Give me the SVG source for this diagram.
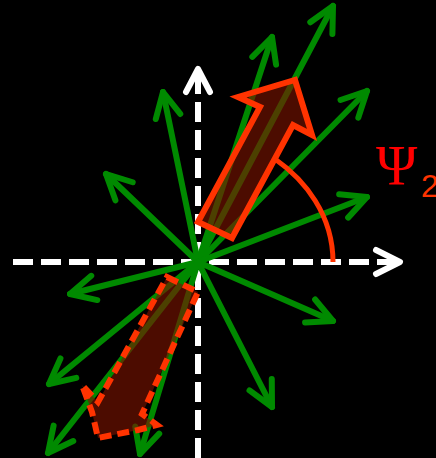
<svg xmlns="http://www.w3.org/2000/svg" width="436" height="458" viewBox="0 0 436 458">
<style>
.axis{stroke:#fff;stroke-width:6;fill:none;stroke-dasharray:20 8}
.g{stroke:#008a00;stroke-width:6;stroke-linecap:round;fill:none;marker-end:url(#ga)}
.big{stroke:#ff3300;stroke-width:6;fill:#7a1400;fill-opacity:0.62;stroke-linejoin:miter}
.lbl{font-family:"Liberation Serif",serif;fill:#ff0000}
</style>
<defs>
<marker id="ga" markerUnits="userSpaceOnUse" viewBox="-32 -20 40 40" refX="0" refY="0" markerWidth="40" markerHeight="40" orient="auto" overflow="visible">
<path d="M-25,-12.5 L0,0 L-25,12.5" fill="none" stroke="#008a00" stroke-width="6" stroke-linecap="round" stroke-linejoin="round"/>
</marker>
</defs>
<rect width="436" height="458" fill="#000"/>
<g id="axes">
<line class="axis" x1="13" y1="262" x2="398" y2="262"/>
<path d="M376,250 L400,262 L376,274" fill="none" stroke="#fff" stroke-width="6" stroke-linecap="round" stroke-linejoin="round"/>
<line class="axis" x1="198" y1="458" x2="198" y2="72"/>
<path d="M186,92 L198,69 L210,92" fill="none" stroke="#fff" stroke-width="6" stroke-linecap="round" stroke-linejoin="round"/>
</g>
<g id="connectors">
<line class="g" x1="198" y1="262" x2="333" y2="6"/>
<line class="g" x1="198" y1="262" x2="272" y2="37"/>
<line class="g" x1="198" y1="262" x2="163" y2="92"/>
<line class="g" x1="198" y1="262" x2="367" y2="91"/>
<line class="g" x1="198" y1="262" x2="106" y2="174"/>
<line class="g" x1="198" y1="262" x2="367" y2="197"/>
<line class="g" x1="198" y1="262" x2="70" y2="294"/>
<line class="g" x1="198" y1="262" x2="333" y2="321"/>
<line class="g" x1="198" y1="262" x2="49" y2="384"/>
<line class="g" x1="198" y1="262" x2="272" y2="407"/>
<line class="g" x1="198" y1="262" x2="48" y2="453"/>
<line class="g" x1="198" y1="262" x2="140" y2="454"/>
</g>
<g id="upper-arrow">
<polygon class="big" points="198,222 260,107 238,97 295,80 312,135 293,125 232,238"/>
</g>
<g id="lower-arrow">
<polygon class="big" points="167,277 198,292 142,414 157,425 138,430 98,438 92,412 82,385 98,402" stroke-dasharray="12 6"/>
</g>
<g id="angle">
<path d="M275,159 C305,180 333,215 333,262" fill="none" stroke="#ff3300" stroke-width="5"/>
</g>
<g id="label">
<text class="lbl" x="376" y="185" font-size="56">Ψ</text>
<text x="421" y="197" font-size="32" font-family="Liberation Sans, sans-serif" fill="#ff3300">2</text>
</g>
</svg>
